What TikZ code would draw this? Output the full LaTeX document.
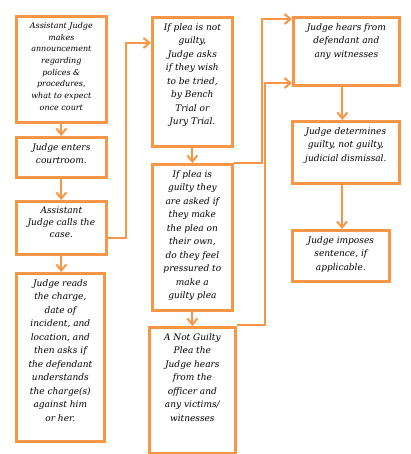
\documentclass[tikz,border=0pt]{standalone}
\usepackage{fontspec}
\setmainfont{DejaVu Serif}
\usetikzlibrary{arrows.meta}
\definecolor{flowline}{RGB}{247,150,70}
\newcommand{\btext}[3]{\parbox[c][#2][t]{#1}{\centering #3}}
\tikzset{
  flowbox/.style={draw=flowline, line width=2.7pt, inner xsep=3pt, inner ysep=6pt,
    anchor=north west, font=\itshape\fontsize{9}{13.5}\selectfont},
  smallbox/.style={flowbox, font=\itshape\fontsize{8}{11.7}\selectfont},
  conn/.style={draw=flowline, line width=2pt, -{Straight Barb[length=6pt,width=10pt]}}
}
\begin{document}
\begin{tikzpicture}[x=1pt, y=-1pt]
  \useasboundingbox (0,0) rectangle (410,454);

  % 1. Cột bên trái
  \node[smallbox] (A) at (15,15) {\btext{84pt}{94pt}{Assistant Judge\\ makes\\ announcement\\ regarding\\ polices \&\\ procedures,\\ what to expect\\ once court}};
  \node[flowbox] (B) at (15,136) {\btext{84pt}{28pt}{Judge enters\\ courtroom.}};
  \node[smallbox, font=\itshape\fontsize{9}{11.7}\selectfont] (C) at (15,200) {\btext{84pt}{41pt}{Assistant\\ Judge calls the\\ case.}};
  \node[flowbox] (D) at (15,272) {\btext{82pt}{156pt}{Judge reads\\ the charge,\\ date of\\ incident, and\\ location, and\\ then asks if\\ the defendant\\ understands\\ the charge(s)\\ against him\\ or her.}};

  % 2. Cột giữa
  \node[flowbox] (E) at (151,16) {\btext{74pt}{117pt}{If plea is not\\ guilty,\\ Judge asks\\ if they wish\\ to be tried,\\ by Bench\\ Trial or\\ Jury Trial.}};
  \node[flowbox] (F) at (151,163) {\btext{74pt}{134pt}{If plea is\\ guilty they\\ are asked if\\ they make\\ the plea on\\ their own,\\ do they feel\\ pressured to\\ make a\\ guilty plea}};
  \node[flowbox] (G) at (148,326) {\btext{80pt}{114pt}{A Not Guilty\\ Plea the\\ Judge hears\\ from the\\ officer and\\ any victims/\\ witnesses}};

  % 3. Cột bên phải
  \node[flowbox] (H) at (292,16) {\btext{100pt}{56pt}{Judge hears from\\ defendant and\\ any witnesses}};
  \node[flowbox] (I) at (291,120) {\btext{101pt}{50pt}{Judge determines\\ guilty, not guilty,\\ judicial dismissal.}};
  \node[flowbox] (J) at (291,229) {\btext{91pt}{39pt}{Judge imposes\\ sentence, if\\ applicable.}};

  % 4. Mũi tên
  \draw[conn] (A.south) -- (B.north);
  \draw[conn] (B.south) -- (C.north);
  \draw[conn] (C.south) -- (C.south |- D.north);
  \draw[conn] (C.east |- 0,238) -| (126,43) -- (E.west |- 0,43);
  \draw[conn] (E.south) -- (E.south |- F.north);
  \draw[conn] (F.south) -- (F.south |- G.north);
  \draw[conn] (F.north east) -| (262,19) -- (H.west |- 0,19);
  \draw[conn] (G.north east |- 0,325) -| (265,83) -- (H.west |- 0,83);
  \draw[conn] ([xshift=-4pt]H.south) -- ([xshift=-4pt]H.south |- I.north);
  \draw[conn] (I.south -| 342,0) -- (J.north -| 342,0);

\end{tikzpicture}
\end{document}
